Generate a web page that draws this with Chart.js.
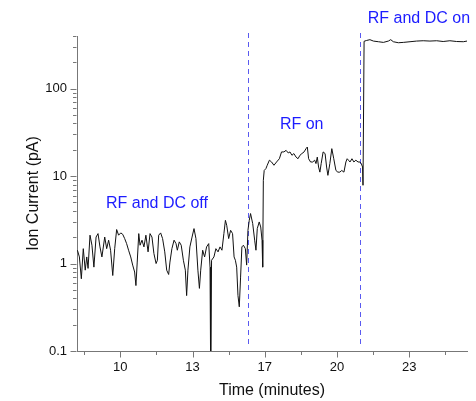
<!DOCTYPE html>
<html>
<head>
<meta charset="utf-8">
<script src="https://cdn.jsdelivr.net/npm/chart.js@4/dist/chart.umd.min.js"></script>
<style>
  html, body { margin: 0; padding: 0; background: #fff; }
  #c { display: block; }
</style>
</head>
<body>
<canvas id="c" width="476" height="401"></canvas>
<script>
// Ion current trace (pA) against time (minutes)
const timeMin = [
  8.02, 8.11, 8.20, 8.29, 8.38, 8.45, 8.51, 8.60, 8.69, 8.78, 8.88, 8.97, 9.06, 9.15, 9.28, 9.37, 9.46, 9.55, 9.65, 9.74,
  9.83, 9.92, 10.02, 10.11, 10.20, 10.29, 10.38, 10.48, 10.57, 10.66, 10.72, 10.78, 10.85, 10.91, 11.00, 11.09, 11.18, 11.28, 11.37, 11.46,
  11.55, 11.65, 11.71, 11.77, 11.86, 11.95, 12.05, 12.14, 12.23, 12.29, 12.38, 12.48, 12.57, 12.63, 12.72, 12.81, 12.91, 13.00, 13.06, 13.12,
  13.21, 13.31, 13.40, 13.49, 13.58, 13.65, 13.71, 13.80, 13.89, 13.98, 14.08, 14.14, 14.17, 14.21, 14.32, 14.41, 14.51, 14.60, 14.69, 14.78,
  14.85, 14.91, 15.00, 15.09, 15.18, 15.25, 15.31, 15.37, 15.43, 15.49, 15.55, 15.61, 15.68, 15.77, 15.83, 15.89, 15.95, 16.01, 16.11, 16.20,
  16.26, 16.32, 16.41, 16.48, 16.54, 16.57,
  16.60, 16.64, 16.72, 16.78, 16.88, 16.98, 17.09, 17.21, 17.34, 17.44, 17.55, 17.65, 17.75, 17.83, 17.92, 18.01, 18.11, 18.20, 18.29, 18.38,
  18.48, 18.57, 18.63, 18.69, 18.78, 18.88, 18.97, 19.03, 19.09, 19.15, 19.21, 19.27, 19.36, 19.45, 19.52, 19.58, 19.67, 19.76, 19.85, 19.95,
  20.04, 20.13, 20.22, 20.32, 20.41, 20.47, 20.53, 20.60, 20.69, 20.78, 20.87, 20.97, 21.06, 21.12, 21.18, 21.20,
  21.25, 21.37, 21.52, 21.68, 21.91, 22.14, 22.37, 22.48, 22.60, 22.83, 23.06, 23.37, 23.67, 23.98, 24.29, 24.60, 24.90, 25.21, 25.52, 25.83,
  26.00
];
const ionCurrent = [
  1.42, 1.19, 0.67, 1.48, 0.84, 1.19, 0.88, 2.11, 1.62, 0.91, 2.01, 2.20, 1.55, 1.19, 2.01, 1.48, 1.85, 1.42, 0.73, 1.48,
  2.45, 2.11, 2.24, 2.16, 1.93, 1.69, 1.42, 1.19, 0.96, 0.80, 0.56, 1.04, 2.20, 1.62, 1.85, 1.55, 2.11, 1.36, 2.20, 2.01,
  1.30, 1.00, 1.09, 2.11, 2.24, 1.93, 1.36, 0.84, 0.75, 1.04, 1.48, 1.85, 1.69, 1.42, 1.77, 1.62, 1.09, 0.84, 0.43, 0.84,
  1.55, 2.01, 2.51, 1.93, 0.84, 0.52, 0.84, 1.42, 1.19, 1.55, 1.69, 0.91, 0.05, 1.09, 1.19, 1.48, 1.36, 1.55, 1.42, 2.20,
  3.12, 2.74, 1.93, 2.40, 2.20, 1.19, 1.09, 0.91, 0.43, 0.32, 0.70, 1.55, 1.62, 1.48, 0.96, 2.40, 3.12, 3.73, 2.86, 1.85,
  1.42, 2.51, 2.99, 2.62, 1.85, 0.91,
  8.95, 11.6, 12.2, 13.3, 15.2, 14.5, 13.3, 14.5, 15.8, 18.9, 18.9, 19.7, 18.4, 18.9, 17.3, 18.1, 16.5, 15.8, 17.3, 18.1,
  18.9, 20.6, 21.5, 15.8, 14.5, 14.5, 15.2, 13.9, 16.5, 12.7, 11.1, 13.9, 18.9, 18.1, 12.7, 10.2, 13.9, 20.6, 15.8, 11.6,
  11.1, 11.1, 11.6, 11.1, 14.5, 15.8, 15.2, 14.5, 15.8, 14.5, 15.2, 14.5, 14.5, 13.9, 12.7, 7.85,
  348, 356, 363, 350, 344, 338, 350, 363, 344, 335, 338, 344, 350, 353, 350, 353, 346, 353, 346, 344,
  350
];

// Axis ticks
const xTickValues = [10, 40 / 3, 50 / 3, 20, 70 / 3];
const xTickLabels = ['10', '13', '17', '20', '23'];
const yTickValues = [0.1, 1, 10, 100];
const yTickLabels = ['0.1', '1', '10', '100'];

// Switching times (dashed markers) and phase captions
const markerTimes = [15.88, 21.06];
const phaseLabels = ['RF and DC off', 'RF on', 'RF and DC on'];
const phaseLabelTime = [11.69, 18.37, 23.78];
const phaseLabelCurrent = [4.85, 39.1, 631];

const FONT = "'Liberation Sans', Arial, Helvetica, sans-serif";
Chart.defaults.font.family = FONT;

const AXIS_COLOR = '#777777';
const NOTE_COLOR = '#1c1cff';

// Major and minor tick marks drawn outward from the axis lines
const tickMarks = {
  id: 'tickMarks',
  afterDraw(chart) {
    const { ctx, chartArea: a, scales: { x, y } } = chart;
    ctx.save();
    ctx.strokeStyle = AXIS_COLOR;
    ctx.lineWidth = 1;
    ctx.beginPath();
    const xb = Math.round(a.bottom) + 0.5;
    const drawX = (v, len) => {
      const px = Math.round(x.getPixelForValue(v)) + 0.5;
      ctx.moveTo(px, xb); ctx.lineTo(px, xb + len);
    };
    xTickValues.forEach(v => drawX(v, 6));
    for (let i = 0; i <= xTickValues.length; i++) {
      const mid = (i === 0 ? xTickValues[0] - 5 / 3 : xTickValues[i - 1] + 5 / 3);
      if (mid > x.min && mid < x.max) drawX(mid, 3.5);
    }
    const yl = Math.round(a.left) - 0.5;
    const drawY = (v, len) => {
      const py = Math.round(y.getPixelForValue(v)) + 0.5;
      ctx.moveTo(yl, py); ctx.lineTo(yl - len, py);
    };
    yTickValues.forEach(v => drawY(v, 6));
    for (let d = 0.1; d < y.max; d *= 10) {
      for (let k = 2; k <= 9; k++) {
        const v = k * d;
        if (v <= y.max * 1.001) drawY(v, 3.5);
      }
    }
    ctx.stroke();
    ctx.restore();
  }
};

// Dashed vertical markers at the switching times
const markers = {
  id: 'markers',
  beforeDatasetsDraw(chart) {
    const { ctx, chartArea: a, scales: { x } } = chart;
    ctx.save();
    ctx.strokeStyle = '#5a5af0';
    ctx.lineWidth = 1;
    ctx.setLineDash([5, 4]);
    markerTimes.forEach(t => {
      const px = Math.round(x.getPixelForValue(t)) + 0.5;
      ctx.beginPath();
      ctx.moveTo(px, a.top - 3);
      ctx.lineTo(px, a.bottom - 6);
      ctx.stroke();
    });
    ctx.restore();
  }
};

// Phase captions placed in data coordinates
const captions = {
  id: 'captions',
  afterDraw(chart) {
    const { ctx, scales: { x, y } } = chart;
    ctx.save();
    ctx.fillStyle = NOTE_COLOR;
    ctx.font = '16px ' + FONT;
    ctx.textAlign = 'center';
    ctx.textBaseline = 'middle';
    phaseLabels.forEach((txt, i) => {
      ctx.fillText(txt, x.getPixelForValue(phaseLabelTime[i]), y.getPixelForValue(phaseLabelCurrent[i]));
    });
    ctx.restore();
  }
};

new Chart(document.getElementById('c'), {
  type: 'line',
  data: {
    datasets: [{
      data: timeMin.map((t, i) => ({ x: t, y: ionCurrent[i] })),
      borderColor: '#111111',
      borderWidth: 1,
      pointRadius: 0,
      tension: 0,
      fill: false
    }]
  },
  options: {
    responsive: false,
    animation: false,
    devicePixelRatio: 1,
    layout: { padding: { top: 36, right: 9, left: 0, bottom: 0 } },
    plugins: { legend: { display: false }, tooltip: { enabled: false } },
    scales: {
      x: {
        type: 'linear',
        min: 8,
        max: 26,
        grid: { display: false, drawTicks: true, tickLength: 6 },
        border: { display: true, color: AXIS_COLOR, width: 1 },
        afterBuildTicks: s => { s.ticks = xTickValues.map(v => ({ value: v })); },
        afterFit: s => { s.height = 50; },
        ticks: {
          autoSkip: false,
          maxRotation: 0,
          padding: 3,
          color: '#111',
          font: { size: 13 },
          callback: (v, i) => xTickLabels[i]
        },
        title: {
          display: true,
          text: 'Time (minutes)',
          color: '#111',
          font: { size: 16 },
          padding: { top: 0, bottom: 1 }
        }
      },
      y: {
        type: 'logarithmic',
        min: 0.1,
        max: 400,
        grid: { display: false, drawTicks: true, tickLength: 5 },
        border: { display: true, color: AXIS_COLOR, width: 1 },
        afterBuildTicks: s => { s.ticks = yTickValues.map(v => ({ value: v })); },
        afterFit: s => { s.width = 77; },
        ticks: {
          autoSkip: false,
          padding: 5,
          color: '#111',
          font: { size: 13 },
          callback: (v, i) => yTickLabels[i]
        },
        title: {
          display: true,
          text: 'Ion Current (pA)',
          color: '#111',
          font: { size: 16 },
          padding: { top: 24, bottom: 0 }
        }
      }
    }
  },
  plugins: [markers, tickMarks, captions]
});
</script>
</body>
</html>
